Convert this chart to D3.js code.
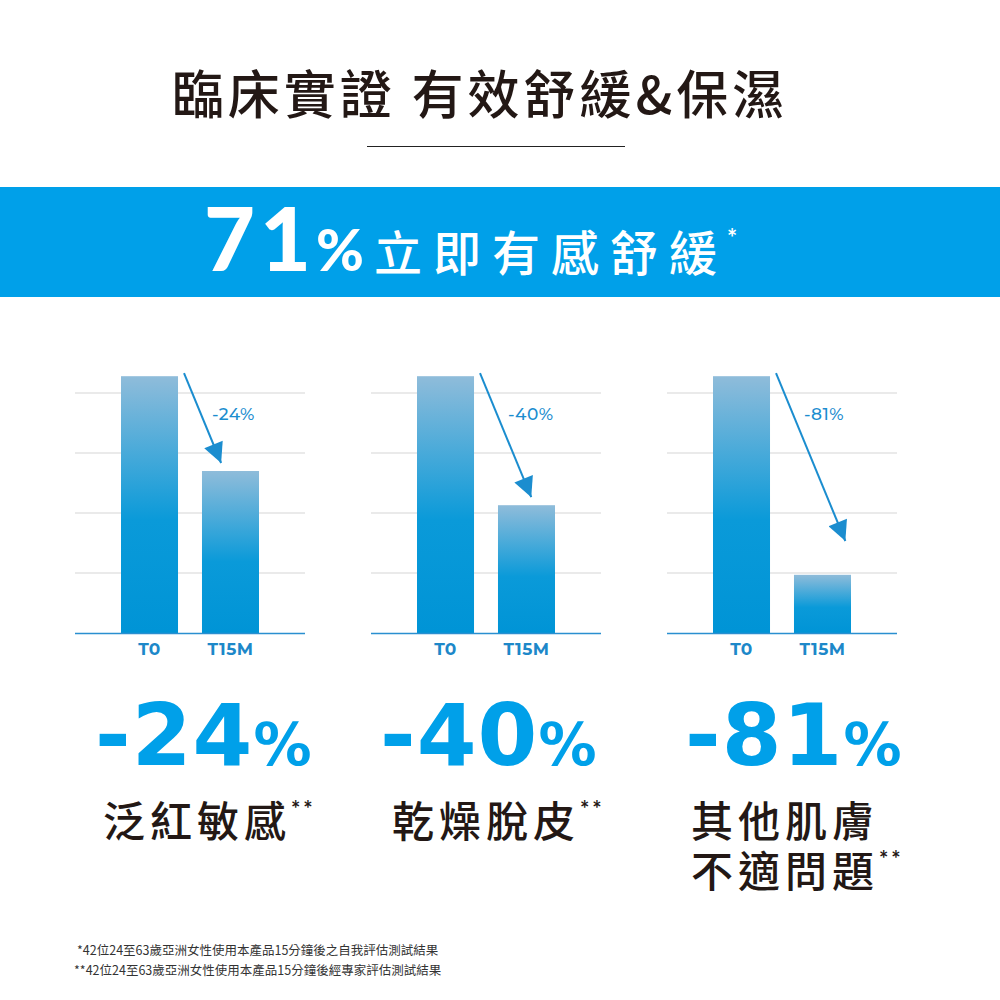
<!DOCTYPE html>
<html><head><meta charset="utf-8">
<script src="https://cdn.jsdelivr.net/npm/d3@7/dist/d3.min.js"></script>
<style>
html,body{margin:0;padding:0;background:#fff;}
svg{display:block;}
</style></head>
<body>
<script>
// ---- data ----
const title = "臨床實證 有效舒緩&保濕";
const bannerNumber = "71";
const bannerText = "立即有感舒緩";
const categories = ["T0", "T15M"];
const seriesT0 = [4.28, 4.28, 4.28];
const seriesT15M = [2.70, 2.13, 0.97];
const changes = ["-24", "-40", "-81"];
const panelLabels = [["泛紅敏感"], ["乾燥脫皮"], ["其他肌膚", "不適問題"]];
const gridTicks = [1, 2, 3, 4];
const footnotes = [
  "*42位24至63歲亞洲女性使用本產品15分鐘後之自我評估測試結果",
  "**42位24至63歲亞洲女性使用本產品15分鐘後經專家評估測試結果"
];

// ---- layout ----
const W = 1000, H = 1000;
const BLUE = "#00a0e9", DARK = "#231815", ARROW = "#1b8dcf";
const CJK = "'Noto Sans CJK TC','Noto Sans CJK SC',sans-serif";
const LAT = "Lato,'Open Sans',sans-serif";
const BIG = "'DejaVu Sans',Lato,sans-serif";

const svg = d3.select("body").append("svg").attr("width", W).attr("height", H);
const defs = svg.append("defs");
const grad = defs.append("linearGradient").attr("id", "barGrad")
  .attr("x1", 0).attr("y1", 0).attr("x2", 0).attr("y2", 1);
grad.append("stop").attr("offset", 0).attr("stop-color", "#8fbcda");
grad.append("stop").attr("offset", 0.56).attr("stop-color", "#0a9ad9");
grad.append("stop").attr("offset", 1).attr("stop-color", "#0094d6");

defs.append("marker").attr("id", "arrowHead")
  .attr("viewBox", "0 0 10 10").attr("refX", 10).attr("refY", 5)
  .attr("markerUnits", "userSpaceOnUse").attr("markerWidth", 28).attr("markerHeight", 20)
  .attr("orient", "auto")
  .append("path").attr("d", "M0,0 L10,5 L0,10 Z").attr("fill", ARROW);

// title
svg.append("text").attr("x", 480).attr("y", 114)
  .attr("text-anchor", "middle")
  .style("font-family", CJK).style("font-weight", 500).style("font-size", "52px")
  .style("letter-spacing", "4px").attr("fill", DARK).text(title);
svg.append("line").attr("x1", 367).attr("x2", 625).attr("y1", 146.5).attr("y2", 146.5)
  .attr("stroke", "#222").attr("stroke-width", 1.2);

// banner
svg.append("rect").attr("x", 0).attr("y", 187).attr("width", W).attr("height", 110).attr("fill", BLUE);
const bt = svg.append("text").attr("x", 204).attr("y", 271).attr("fill", "#fff");
bt.append("tspan").style("font-family", LAT).style("font-weight", 900).style("font-size", "88px")
  .style("letter-spacing", "5px").text(bannerNumber);
bt.append("tspan").attr("dx", 0).style("font-family", LAT).style("font-weight", 900).style("font-size", "58px").text("%");
bt.append("tspan").attr("dx", 10).style("font-family", CJK).style("font-weight", 500).style("font-size", "48px")
  .style("letter-spacing", "11px").text(bannerText);
bt.append("tspan").attr("dx", -1).attr("dy", -24).style("font-family", LAT).style("font-weight", 700).style("font-size", "24px").text("*");

// panels
const panelLeft = [75, 371, 667];
const panelW = 230;
const numOffset = [20, 9, 18];
const labelOffset = [28, 21, 24];
const y = d3.scaleLinear().domain([0, 5]).range([633, 333]);

panelLeft.forEach((px, i) => {
  const g = svg.append("g");
  const x = d3.scaleBand().domain(categories).range([px + 46, px + 184]).paddingInner(0.296).paddingOuter(0);
  // grid
  g.selectAll("line.grid").data(gridTicks).join("line")
    .attr("x1", px).attr("x2", px + panelW)
    .attr("y1", d => y(d)).attr("y2", d => y(d))
    .attr("stroke", "#e3e3e3").attr("stroke-width", 1.5);
  // bars
  const vals = [seriesT0[i], seriesT15M[i]];
  g.selectAll("rect.bar").data(categories).join("rect")
    .attr("x", d => x(d)).attr("width", x.bandwidth())
    .attr("y", (d, j) => y(vals[j])).attr("height", (d, j) => y(0) - y(vals[j]))
    .attr("fill", "url(#barGrad)");
  // axis line + labels
  const axis = d3.axisBottom(x).tickSize(0).tickPadding(10);
  const ax = g.append("g").attr("transform", `translate(0,${y(0)})`).call(axis);
  ax.select(".domain").remove();
  g.append("line").attr("x1", px).attr("x2", px + panelW).attr("y1", y(0) + 0.5).attr("y2", y(0) + 0.5)
    .attr("stroke", "#2a8fd0").attr("stroke-width", 1.3);
  ax.selectAll("text").style("font-family", "Montserrat,'Open Sans',sans-serif")
    .style("font-weight", 700).style("font-size", "17px").style("letter-spacing", "0.5px").attr("fill", "#1d88c9");
  // arrow
  const sx = x("T0") + x.bandwidth() + 6, sy = y(seriesT0[i]) - 3;
  const ty = y(Math.max(seriesT15M[i], 1.4)) - 8;
  const tx = sx + (ty - sy) / 2.42;
  g.append("line").attr("x1", sx).attr("y1", sy).attr("x2", tx).attr("y2", ty)
    .attr("stroke", ARROW).attr("stroke-width", 2).attr("marker-end", "url(#arrowHead)");
  g.append("text").attr("x", sx + 28).attr("y", y(3.65) + 6)
    .style("font-family", "Montserrat,'Open Sans',sans-serif").style("font-size", "17px").style("font-weight", 500)
    .style("letter-spacing", "0.5px")
    .attr("fill", ARROW).text(changes[i] + "%");
  // big number
  const bn = svg.append("text").attr("x", px + numOffset[i]).attr("y", 765).attr("fill", BLUE);
  bn.append("tspan").style("font-family", BIG).style("font-weight", 700).style("font-size", "86px")
    .style("letter-spacing", "1px").text(changes[i]);
  bn.append("tspan").attr("dx", 0).style("font-family", BIG).style("font-weight", 700).style("font-size", "58px").text("%");
  // category label (one text element, one tspan per line)
  const lx = px + labelOffset[i];
  const t = svg.append("text").attr("x", lx).attr("y", 837).attr("fill", DARK);
  panelLabels[i].forEach((line, k) => {
    t.append("tspan").attr("x", lx).attr("y", 837 + k * 50)
      .style("font-family", CJK).style("font-weight", 500).style("font-size", "42px")
      .style("letter-spacing", "5px").text(line);
    if (k === panelLabels[i].length - 1) {
      t.append("tspan").attr("dx", 0).attr("dy", -20).style("font-family", LAT).style("font-weight", 700)
        .style("font-size", "22px").style("letter-spacing", "3px").text("**");
    }
  });
});

// footnotes
footnotes.forEach((f, i) => {
  svg.append("text").attr("x", i === 0 ? 77 : 74).attr("y", 955 + i * 20)
    .style("font-family", CJK).style("font-size", "12.5px").attr("fill", "#333").text(f);
});
</script>
</body></html>
